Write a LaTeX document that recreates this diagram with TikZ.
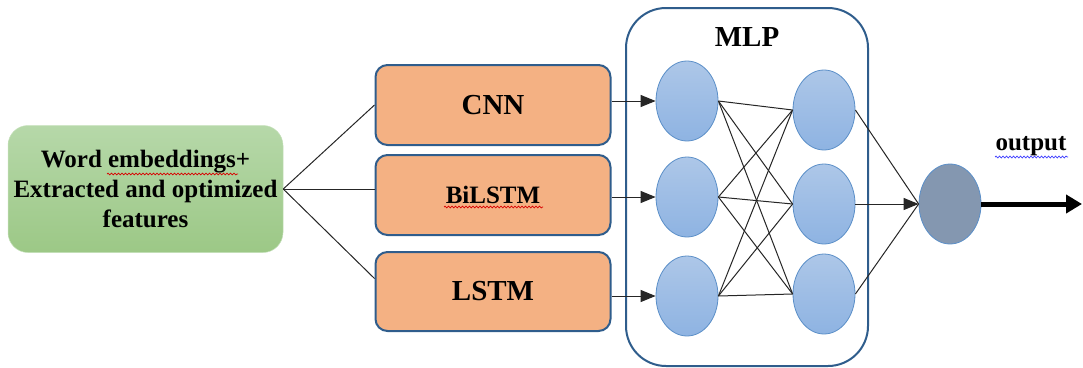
\documentclass[tikz,border=0pt]{standalone}
\usepackage{fontspec}
\setmainfont{Liberation Serif}
\usetikzlibrary{arrows.meta,shapes.geometric,decorations.pathmorphing}
\definecolor{boxblue}{HTML}{2F5D8C}
\definecolor{orangefill}{HTML}{F4B183}
\definecolor{greentop}{HTML}{B6D8A9}
\definecolor{greenbot}{HTML}{9CC886}
\definecolor{neutop}{HTML}{ADC7E8}
\definecolor{neubot}{HTML}{8EB3E2}
\definecolor{neuedge}{HTML}{5B8FC8}
\definecolor{outfill}{HTML}{8497B0}
\tikzset{
  greenbox/.style={rounded corners=20pt, top color=greentop, bottom color=greenbot, draw=greentop!80!white, line width=0.5pt, align=center, font=\fontsize{25}{30}\selectfont\bfseries, inner sep=0pt},
  modelbox/.style={rounded corners=12pt, fill=orangefill, draw=boxblue, line width=2pt, minimum width=235pt, inner sep=0pt},
  mlpbox/.style={rounded corners=40pt, draw=boxblue, line width=2pt, fill=white, minimum width=242pt, minimum height=358pt, inner sep=0pt},
  neuron/.style={ellipse, top color=neutop, bottom color=neubot, draw=neuedge, line width=0.8pt, minimum width=62pt, minimum height=80pt, inner sep=0pt},
  outneuron/.style={ellipse, fill=outfill, draw=neuedge, line width=0.8pt, minimum width=62pt, minimum height=80pt, inner sep=0pt},
  conn/.style={draw=black!85, line width=1pt},
  inarrow/.style={conn, -{Triangle[length=15pt,width=12pt]}},
  bigarrow/.style={draw=black, line width=5pt, -{Triangle[length=16pt,width=18pt]}},
  wavy/.style={decorate, decoration={snake, amplitude=0.9pt, segment length=3.5pt}, line width=0.7pt},
  lbl/.style={font=\bfseries, inner sep=0pt}
}
\begin{document}
\begin{tikzpicture}[x=1pt,y=-1pt]
\useasboundingbox (0,0) rectangle (1083,367);
% input
\node[greenbox, minimum width=275pt, minimum height=127pt] (emb) at (145.5,189)
  {Word embeddings+\\Extracted and optimized\\features};
% models
\node[modelbox, minimum height=80pt, font=\fontsize{29}{32}\selectfont\bfseries] (cnn) at (493,105) {CNN};
\node[modelbox, minimum height=80pt, font=\fontsize{25}{28}\selectfont\bfseries] (bilstm) at (493,195) {BiLSTM};
\node[modelbox, minimum height=79pt, font=\fontsize{29}{32}\selectfont\bfseries] (lstm) at (493,291.5) {LSTM};
% MLP container
\node[mlpbox] (mlp) at (747,187) {};
\node[lbl, font=\fontsize{29}{32}\selectfont\bfseries] (mlplabel) at (747,37) {MLP};
% neurons
\node[neuron] (a1) at (687,101) {};
\node[neuron] (a2) at (687,197) {};
\node[neuron] (a3) at (687,296) {};
\node[neuron] (b1) at (824,110) {};
\node[neuron] (b2) at (824,204) {};
\node[neuron] (b3) at (824,294) {};
\node[outneuron] (o) at (950,204) {};
\coordinate (end) at (1082,204);
\node[lbl, font=\fontsize{25}{28}\selectfont\bfseries] (outlabel) at (1031,146) {output};
% input connectors
\draw[conn] (emb.east) -- (cnn.west);
\draw[conn] (emb.east) -- (emb.east -| bilstm.west);
\draw[conn] (emb.east) -- ([yshift=13pt]lstm.west);
% model -> first layer
\draw[inarrow] (cnn.east |- a1) -- (a1.west);
\draw[inarrow] (bilstm.east |- a2) -- (a2.west);
\draw[inarrow] (lstm.east |- a3) -- (a3.west);
% dense connections
\foreach \i in {1,2,3}{
  \foreach \j in {1,2,3}{
    \draw[conn] (a\i.east) -- (b\j.west);
  }
}
% to output
\draw[conn] (b1.east) -- (o.west);
\draw[inarrow] (b2.east) -- (o.west);
\draw[conn] (b3.east) -- (o.west);
\draw[bigarrow] (o.east) -- (end);
% spell-check underlines
\draw[wavy, red!85!black] (107,174) -- (238,174);
\draw[wavy, red!85!black] (444,207) -- (543,207);
\draw[wavy, blue!80!white] (995,157) -- (1068,157);
\end{tikzpicture}
\end{document}
